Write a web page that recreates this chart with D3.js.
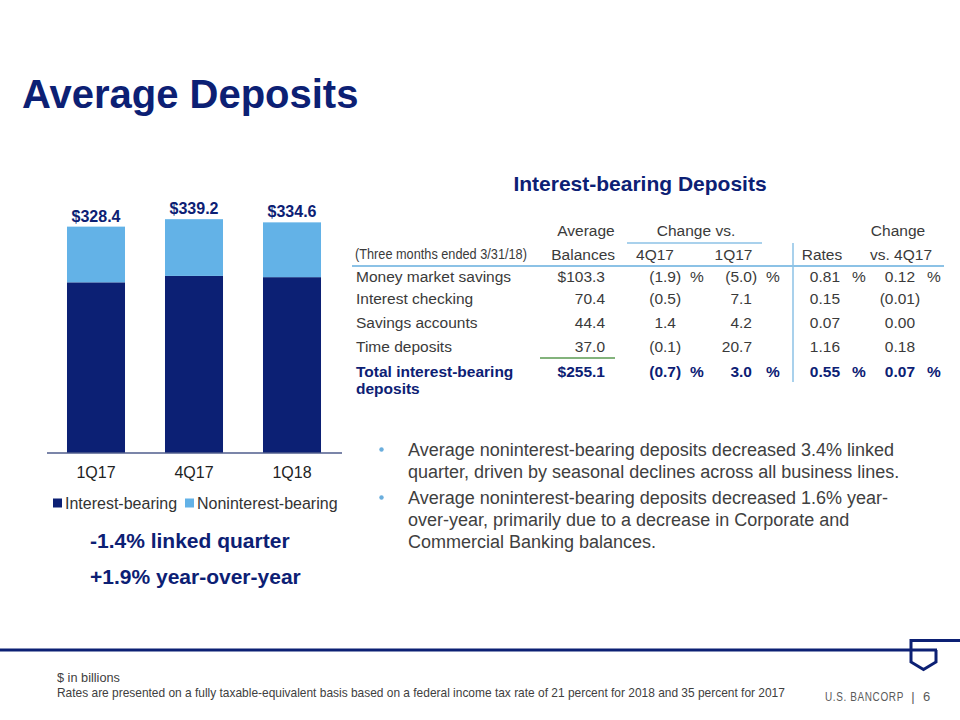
<!DOCTYPE html>
<html>
<head>
<meta charset="utf-8">
<script src="https://cdn.jsdelivr.net/npm/d3@7"></script>
<style>
  html, body { margin: 0; padding: 0; background: #ffffff; }
  svg { display: block; font-family: "Liberation Sans", Arial, sans-serif; }
</style>
</head>
<body>
<svg id="chart" width="960" height="720"></svg>
<script>
// ---------- data ----------
const categories = ["1Q17", "4Q17", "1Q18"];
const interestBearing = [247.6, 256.9, 255.1];
const nonInterestBearing = [80.8, 82.3, 79.5];
const totalLabels = ["$328.4", "$339.2", "$334.6"];
const seriesNames = ["Interest-bearing", "Noninterest-bearing"];

const tableRowLabels = [["Money market savings"], ["Interest checking"], ["Savings accounts"], ["Time deposits"], ["Total interest-bearing", "deposits"]];
const avgBalances = ["$103.3", "70.4", "44.4", "37.0", "$255.1"];
const changeVs4Q17 = ["(1.9)", "(0.5)", "1.4", "(0.1)", "(0.7)"];
const changeVs1Q17 = ["(5.0)", "7.1", "4.2", "20.7", "3.0"];
const rates = ["0.81", "0.15", "0.07", "1.16", "0.55"];
const rateChangeVs4Q17 = ["0.12", "(0.01)", "0.00", "0.18", "0.07"];
const percentRows = [0, 4];

const bullets = [
  ["Average noninterest-bearing deposits decreased 3.4% linked", "quarter, driven by seasonal declines across all business lines."],
  ["Average noninterest-bearing deposits decreased 1.6% year-", "over-year, primarily due to a decrease in Corporate and", "Commercial Banking balances."]
];
const summaryLines = ["-1.4% linked quarter", "+1.9% year-over-year"];
const footnotes = ["$ in billions", "Rates are presented on a fully taxable-equivalent basis based on a federal income tax rate of 21 percent for 2018 and 35 percent for 2017"];

// ---------- styles ----------
const NAVY = "#0c2074";
const LIGHT = "#63b2e7";
const GRAY = "#3a3a3a";
const RULE = "#8cc2e6";

const svg = d3.select("#chart");

// Title
svg.append("text").attr("x", 22).attr("y", 108)
  .attr("font-size", 40).attr("font-weight", "bold").attr("fill", NAVY)
  .text("Average Deposits");

// ---------- bar chart ----------
const baseY = 453;
const x = d3.scaleBand().domain(categories).range([47, 341])
  .paddingInner(0.408).paddingOuter(0.204);
const y = d3.scaleLinear().domain([0, 350]).range([baseY, baseY - 350 * 0.6893]);

const stackData = categories.map((c, i) => ({ cat: c, ib: interestBearing[i], nib: nonInterestBearing[i] }));
const stack = d3.stack().keys(["ib", "nib"])(stackData);
const colors = [NAVY, LIGHT];

const g = svg.append("g");
g.selectAll("g.series").data(stack).join("g")
  .attr("fill", (d, i) => colors[i])
  .selectAll("rect").data(d => d).join("rect")
  .attr("x", d => x(d.data.cat))
  .attr("width", x.bandwidth())
  .attr("y", d => y(d[1]))
  .attr("height", d => y(d[0]) - y(d[1]));

// total labels
g.selectAll("text.total").data(stackData).join("text")
  .attr("x", d => x(d.cat) + x.bandwidth() / 2)
  .attr("y", d => y(d.ib + d.nib) - 5)
  .attr("text-anchor", "middle").attr("font-size", 16).attr("font-weight", "bold")
  .attr("fill", NAVY)
  .text((d, i) => totalLabels[i]);

// axis
const xAxis = g.append("g").attr("transform", `translate(0,${baseY})`)
  .call(d3.axisBottom(x).tickSize(0).tickPadding(14));
xAxis.select(".domain").remove();
xAxis.selectAll("text").attr("font-size", 16).attr("fill", "#222")
  .attr("font-family", "'Liberation Sans', Arial, sans-serif");
g.append("line").attr("x1", 47).attr("x2", 342).attr("y1", baseY).attr("y2", baseY)
  .attr("stroke", "#4f5d8c").attr("stroke-width", 1.5);

// legend
const legendX = [53, 185];
seriesNames.forEach((n, i) => {
  svg.append("rect").attr("x", legendX[i]).attr("y", 498.5).attr("width", 9).attr("height", 9).attr("fill", colors[i]);
  svg.append("text").attr("x", legendX[i] + 12).attr("y", 509)
    .attr("font-size", 16).attr("fill", "#333").text(n);
});

// summary lines
summaryLines.forEach((t, i) => {
  svg.append("text").attr("x", 90).attr("y", 548 + i * 36)
    .attr("font-size", 21).attr("font-weight", "bold").attr("fill", NAVY).text(t);
});

// ---------- table ----------
svg.append("text").attr("x", 640).attr("y", 191).attr("text-anchor", "middle")
  .attr("font-size", 21).attr("font-weight", "bold").attr("fill", NAVY)
  .text("Interest-bearing Deposits");

const T = svg.append("g").attr("font-size", 15.5).attr("fill", GRAY);
function txt(xp, yp, s, anchor, extra) {
  const t = T.append("text").attr("x", xp).attr("y", yp).attr("text-anchor", anchor || "start").text(s);
  if (extra) extra(t);
  return t;
}
// squeeze a text horizontally to a given width, keeping its height
function fitWidth(sel, x0, y0, width) {
  sel.attr("x", 0).attr("y", 0);
  const w = sel.node().getComputedTextLength();
  const sx = w > 0 ? width / w : 1;
  sel.attr("transform", `translate(${x0},${y0}) scale(${sx},1)`);
}
// header row 1
txt(586, 236, "Average", "middle");
txt(696, 236, "Change vs.", "middle");
txt(898, 236, "Change", "middle");
// header row 2
const threeMonths = txt(0, 0, "(Three months ended 3/31/18)", "start", t => t.attr("font-size", 14));
fitWidth(threeMonths, 355, 259, 172);
txt(615, 260, "Balances", "end");
txt(655, 260, "4Q17", "middle");
txt(733.5, 260, "1Q17", "middle");
txt(822, 260, "Rates", "middle");
txt(901, 260, "vs. 4Q17", "middle");

// rules
svg.append("line").attr("x1", 627).attr("x2", 762).attr("y1", 243).attr("y2", 243).attr("stroke", RULE).attr("stroke-width", 1.5);
svg.append("line").attr("x1", 352).attr("x2", 944).attr("y1", 266).attr("y2", 266).attr("stroke", RULE).attr("stroke-width", 2);
svg.append("line").attr("x1", 793).attr("x2", 793).attr("y1", 243).attr("y2", 382).attr("stroke", RULE).attr("stroke-width", 1.5);
svg.append("line").attr("x1", 540).attr("x2", 615).attr("y1", 358).attr("y2", 358).attr("stroke", "#5a9a50").attr("stroke-width", 1.5);

const rowY = [282, 304, 328, 352, 377];
function accounting(xRight, yp, s, bold) {
  const paren = s.startsWith("(");
  const core = paren ? s.slice(0, -1) : s;
  const t1 = txt(xRight, yp, core, "end");
  if (bold) { t1.attr("font-weight", "bold").attr("fill", NAVY); }
  if (paren) {
    const t2 = txt(xRight, yp, ")", "start");
    if (bold) { t2.attr("font-weight", "bold").attr("fill", NAVY); }
  }
}
tableRowLabels.forEach((lbl, i) => {
  const bold = i === 4;
  const yp = rowY[i];
  lbl.forEach((l, k) => {
    const t = txt(356, yp + k * 17, l, "start");
    if (bold) t.attr("font-weight", "bold").attr("fill", NAVY);
  });
  accounting(605, yp, avgBalances[i], bold);
  accounting(676, yp, changeVs4Q17[i], bold);
  accounting(752, yp, changeVs1Q17[i], bold);
  accounting(840, yp, rates[i], bold);
  accounting(915, yp, rateChangeVs4Q17[i], bold);
  if (percentRows.includes(i)) {
    [690, 766, 852, 927].forEach(px => {
      const t = txt(px, yp, "%", "start");
      if (bold) t.attr("font-weight", "bold").attr("fill", NAVY);
    });
  }
});

// ---------- bullets ----------
const bulletTop = [455.5, 503.5];
bullets.forEach((lines, i) => {
  svg.append("circle").attr("cx", 381.5).attr("cy", bulletTop[i] - 6).attr("r", 2.2).attr("fill", "#6aaedd");
  lines.forEach((l, k) => {
    svg.append("text").attr("x", 408).attr("y", bulletTop[i] + k * 22)
      .attr("font-size", 18).attr("fill", "#404040").text(l);
  });
});

// ---------- footer ----------
svg.append("line").attr("x1", 0).attr("x2", 937).attr("y1", 650).attr("y2", 650).attr("stroke", NAVY).attr("stroke-width", 3);
svg.append("path")
  .attr("d", "M960,640.5 L911,640.5 L911,662 L923.5,669.5 L936,662 L936,650")
  .attr("fill", "none").attr("stroke", NAVY).attr("stroke-width", 3).attr("stroke-linejoin", "miter");

const fn1 = svg.append("text").attr("font-size", 13).attr("fill", "#404040").text(footnotes[0]);
fitWidth(fn1, 57, 682, 63);
const fn2 = svg.append("text").attr("font-size", 13).attr("fill", "#404040").text(footnotes[1]);
fitWidth(fn2, 57, 697, 729);

const brand = svg.append("text").attr("font-size", 13).attr("fill", "#5a5a5a")
  .attr("letter-spacing", 0.8).text("U.S. BANCORP");
fitWidth(brand, 825, 701, 79);
svg.append("text").attr("x", 913).attr("y", 701).attr("font-size", 13)
  .attr("fill", "#5a5a5a").attr("text-anchor", "middle").text("|");
svg.append("text").attr("x", 923).attr("y", 701).attr("font-size", 13)
  .attr("fill", "#5a5a5a").text("6");
</script>
</body>
</html>
